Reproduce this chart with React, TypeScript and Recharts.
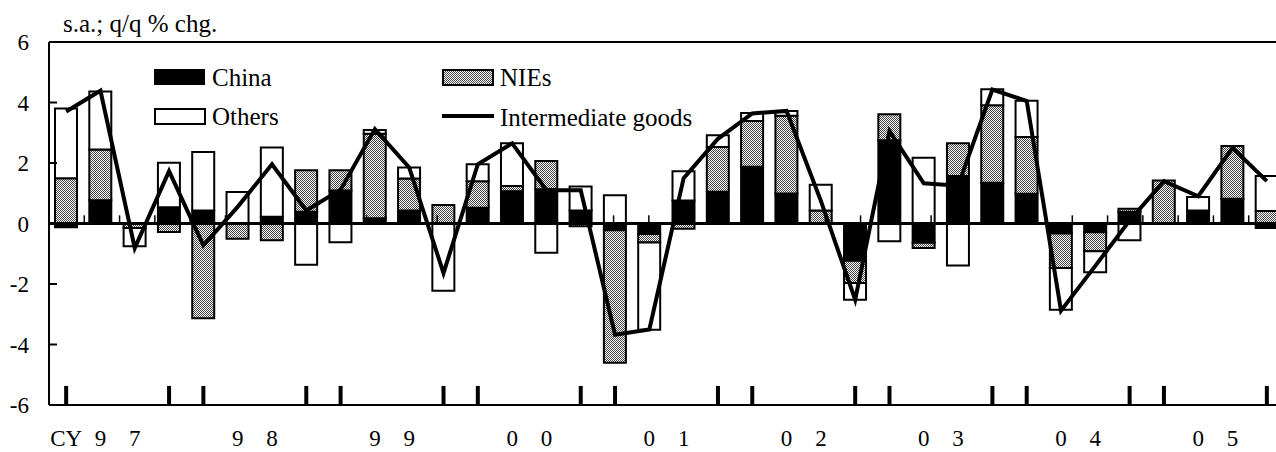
import React from "react";
import { ComposedChart, Bar, Line, XAxis, YAxis, ReferenceLine } from "recharts";

const years = ["97", "98", "99", "00", "01", "02", "03", "04", "05"];
const quarters = years.flatMap((y) => [1, 2, 3, 4].map((k) => `${y}Q${k}`));
const tickLabels = years.flatMap((y, i) => [i === 0 ? "CY" : "", y[0], y[1], ""]);

const china = [
  -0.12, 0.77, 0, 0.54, 0.43, 0, 0.22, 0.39, 1.09, 0.17, 0.43, 0,
  0.52, 1.07, 1.13, 0.43, -0.22, -0.35, 0.76, 1.05, 1.88, 0.99, 0, -1.23,
  2.75, -0.64, 1.57, 1.35, 0.98, -0.33, -0.29, 0.39, 0, 0.43, 0.82, -0.15,
];
const nies = [
  1.5, 1.68, -0.15, -0.28, -3.13, -0.5, -0.55, 1.37, 0.67, 2.8, 1.06, 0.61,
  0.88, 0.17, 0.94, -0.09, -4.38, -0.28, -0.17, 1.48, 1.51, 2.57, 0.43, -0.74,
  0.86, -0.17, 1.08, 2.56, 1.88, -1.14, -0.63, 0.1, 1.42, 0, 1.74, 0.41,
];
const others = [
  2.3, 1.91, -0.6, 1.47, 1.93, 1.04, 2.29, -1.36, -0.62, 0.12, 0.36, -2.22,
  0.56, 1.41, -0.97, 0.79, 0.93, -2.88, 0.97, 0.39, 0.26, 0.16, 0.85, -0.55,
  -0.59, 2.17, -1.39, 0.53, 1.2, -1.38, -0.69, -0.55, 0, 0.45, 0, 1.16,
];
const intermediate = [
  3.7, 4.39, -0.81, 1.73, -0.72, 0.55, 1.96, 0.43, 1.12, 3.12, 1.85, -1.64,
  1.96, 2.65, 1.1, 1.1, -3.68, -3.5, 1.5, 2.8, 3.64, 3.72, 0.75, -2.52,
  3.05, 1.33, 1.25, 4.43, 4.05, -2.88, -1.4, 0.1, 1.4, 0.9, 2.5, 1.4,
];
const yTicks = [-6, -4, -2, 0, 2, 4, 6];

const data = quarters.map((q, i) => ({
  q,
  china: china[i],
  nies: nies[i],
  others: others[i],
  ig: intermediate[i],
}));

const yearEdgeTicks = quarters.filter((_, i) => i % 4 === 0 || i % 4 === 3);
const boundaries = quarters.slice(1).map((_, i) => i + 1);

const FONT = "'Liberation Serif', 'Times New Roman', serif";

const YTick = (props: any) => {
  const { x, y, payload } = props;
  return (
    <g>
      <line x1={x} x2={x + 8} y1={y} y2={y} stroke="#000" strokeWidth={2} />
      <text x={x - 20} y={y} dy="0.35em" textAnchor="end" style={{ fontFamily: FONT }} fontSize={23} fill="#000">
        {payload.value}
      </text>
    </g>
  );
};

const XTick = (props: any) => {
  const { x, y, payload, index } = props;
  const i = typeof index === "number" ? index : quarters.indexOf(payload.value);
  const label = tickLabels[i] || "";
  if (!label) return <g />;
  return (
    <text x={x} y={y + 41} textAnchor="middle" style={{ fontFamily: FONT }} fontSize={23} fill="#000">
      {label}
    </text>
  );
};

export default function App() {
  return (
    <div
      style={{
        position: "absolute",
        left: 0,
        top: 0,
        width: 1276,
        height: 452,
        overflow: "hidden",
        background: "#fff",
      }}
    >
      <svg width={0} height={0} style={{ position: "absolute" }}>
        <defs>
          <pattern id="niesPat" width={2} height={2} patternUnits="userSpaceOnUse">
            <rect width={2} height={2} fill="#fff" />
            <rect x={0} y={0} width={1} height={1} fill="#444" />
            <rect x={1} y={1} width={1} height={1} fill="#444" />
          </pattern>
        </defs>
      </svg>
      <ComposedChart
        width={1290}
        height={452}
        data={data}
        stackOffset="sign"
        margin={{ top: 42, right: 6, bottom: 0, left: 0 }}
      >
        <XAxis
          dataKey="q"
          height={47}
          interval={0}
          axisLine={{ stroke: "#000", strokeWidth: 2 }}
          tickLine={false}
          tickSize={0}
          tickMargin={0}
          tick={<XTick />}
        />
        <XAxis xAxisId="num" type="number" domain={[0, 36]} hide allowDataOverflow />
        <YAxis
          type="number"
          domain={[-6, 6]}
          ticks={yTicks}
          interval={0}
          width={49}
          allowDataOverflow
          axisLine={{ stroke: "#000", strokeWidth: 2 }}
          tickLine={false}
          tickSize={0}
          tickMargin={0}
          tick={<YTick />}
        />
        <Bar dataKey="china" stackId="a" fill="#000" stroke="#000" strokeWidth={2} barSize={22} isAnimationActive={false} />
        <Bar dataKey="nies" stackId="a" fill="url(#niesPat)" stroke="#000" strokeWidth={2} barSize={22} isAnimationActive={false} />
        <Bar dataKey="others" stackId="a" fill="#fff" stroke="#000" strokeWidth={2} barSize={22} isAnimationActive={false} />
        <ReferenceLine y={6} stroke="#000" strokeWidth={2} />
        <ReferenceLine y={0} stroke="#000" strokeWidth={3} />
        {boundaries.map((b) => (
          <ReferenceLine
            key={`b${b}`}
            xAxisId="num"
            segment={[{ x: b, y: 0 }, { x: b, y: 0.27 }]}
            stroke="#000"
            strokeWidth={1.5}
          />
        ))}
        {yearEdgeTicks.map((q) => (
          <ReferenceLine
            key={`t${q}`}
            segment={[{ x: q, y: -6 }, { x: q, y: -5.37 }]}
            stroke="#000"
            strokeWidth={4}
          />
        ))}
        <Line
          dataKey="ig"
          type="linear"
          stroke="#000"
          strokeWidth={4}
          dot={false}
          activeDot={false}
          isAnimationActive={false}
        />
      </ComposedChart>
      <svg
        width={1276}
        height={452}
        style={{ position: "absolute", left: 0, top: 0, pointerEvents: "none", fontFamily: FONT }}
        fontSize={25}
      >
        <text x={63} y={32} fill="#000">s.a.; q/q % chg.</text>
        <rect x={154} y={69} width={51} height={16} fill="#000" />
        <text x={212} y={86} fill="#000">China</text>
        <rect x={155} y={109} width={50} height={15} fill="#fff" stroke="#000" strokeWidth={2} />
        <text x={212} y={125} fill="#000">Others</text>
        <rect x={443} y={70} width={50} height={15} fill="url(#niesPat)" stroke="#000" strokeWidth={2} />
        <text x={500} y={86} fill="#000">NIEs</text>
        <line x1={442} x2={494} y1={116} y2={116} stroke="#000" strokeWidth={4} />
        <text x={500} y={126} fill="#000">Intermediate goods</text>
      </svg>
    </div>
  );
}
